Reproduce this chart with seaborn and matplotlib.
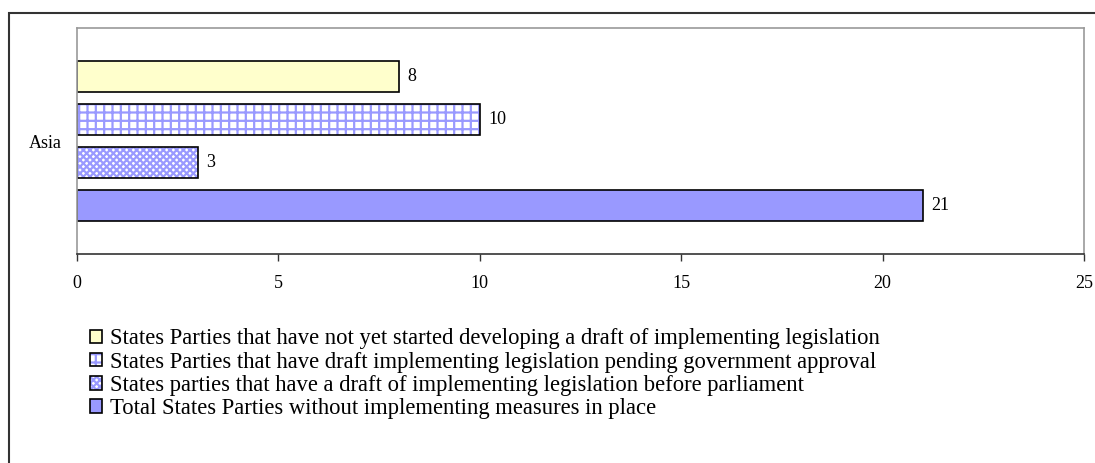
import matplotlib
matplotlib.use("Agg")
import matplotlib.pyplot as plt
import matplotlib.colors as mcolors
import seaborn as sns
import pandas as pd

# ── Data ───────────────────────────────────────────────
regions = ["Asia"]
series = [
    "States Parties that have not yet started developing a draft of implementing legislation",
    "States Parties that have draft implementing legislation pending government approval",
    "States parties that have a draft of implementing legislation before parliament",
    "Total States Parties without implementing measures in place",
]
values = [8, 10, 3, 21]
x_ticks = [0, 5, 10, 15, 20, 25]

faces = ["#FFFFCC", "#FFFFFF", "#FFFFFF", "#9999FF"]
hatches = [None, "++", "xxxxx", None]
HATCH_COL = "#9999FF"

df = pd.DataFrame({"region": regions * len(series), "series": series, "value": values})


def set_hatch_col(p, col):
    if hasattr(p, "set_hatchcolor"):
        p.set_hatchcolor(col)
    else:
        p._hatch_color = mcolors.to_rgba(col)


# ── Plot ───────────────────────────────────────────────
sns.set_theme(style="white")
plt.rcParams["font.family"] = ["Liberation Serif", "DejaVu Serif"]
plt.rcParams["text.color"] = "black"
plt.rcParams["xtick.color"] = "black"
plt.rcParams["ytick.color"] = "black"
plt.rcParams["hatch.linewidth"] = 1.6

fig = plt.figure(figsize=(10.95, 4.63), dpi=100)
ax = fig.add_axes([77 / 1095, 1 - 254 / 463, (1084 - 77) / 1095, (254 - 28) / 463])

sns.barplot(data=df, y="region", x="value", hue="series", hue_order=series,
            orient="h", width=0.76, gap=0.26, palette=faces, saturation=1,
            edgecolor="black", linewidth=1.2, ax=ax, legend=True)

for cont, face, hat in zip(ax.containers, faces, hatches):
    for p in cont.patches:
        p.set_facecolor(face)
        if hat:
            p.set_hatch(hat)
            set_hatch_col(p, HATCH_COL)
    ax.bar_label(cont, padding=6, fontsize=13)

ax.set_xlim(0, 25)
ax.set_ylim(0.5, -0.5)
ax.set_xticks(x_ticks)
ax.set_xticklabels([str(t) for t in x_ticks], fontsize=13)
ax.tick_params(axis="x", direction="out", length=5, width=1, color="#333333", pad=10, bottom=True)
ax.tick_params(axis="y", length=0, labelsize=13, pad=11)
ax.set_xlabel("")
ax.set_ylabel("")
for side in ["top", "right", "left"]:
    ax.spines[side].set_color("#999999")
    ax.spines[side].set_linewidth(1.2)
ax.spines["bottom"].set_color("#333333")
ax.spines["bottom"].set_linewidth(1.2)

# legend below the plot
handles, labels = ax.get_legend_handles_labels()
for h, face, hat in zip(handles, faces, hatches):
    h.set_facecolor(face)
    h.set_edgecolor("black")
    if hat:
        h.set_hatch(hat)
        set_hatch_col(h, HATCH_COL)
ax.legend(handles, labels, loc="upper left", bbox_to_anchor=(79 / 1095, 1 - 317 / 463),
          bbox_transform=fig.transFigure, frameon=False, fontsize=16.3,
          handlelength=0.53, handleheight=0.53, handletextpad=0.35, labelspacing=0.1,
          borderpad=0)

# outer chart border
fig.add_artist(plt.Rectangle((9 / 1095, -0.05), 1.2, 1 - 13 / 463 + 0.05,
                             transform=fig.transFigure, fill=False,
                             edgecolor="#333333", linewidth=1.5))

fig.savefig("out.png", dpi=100)
